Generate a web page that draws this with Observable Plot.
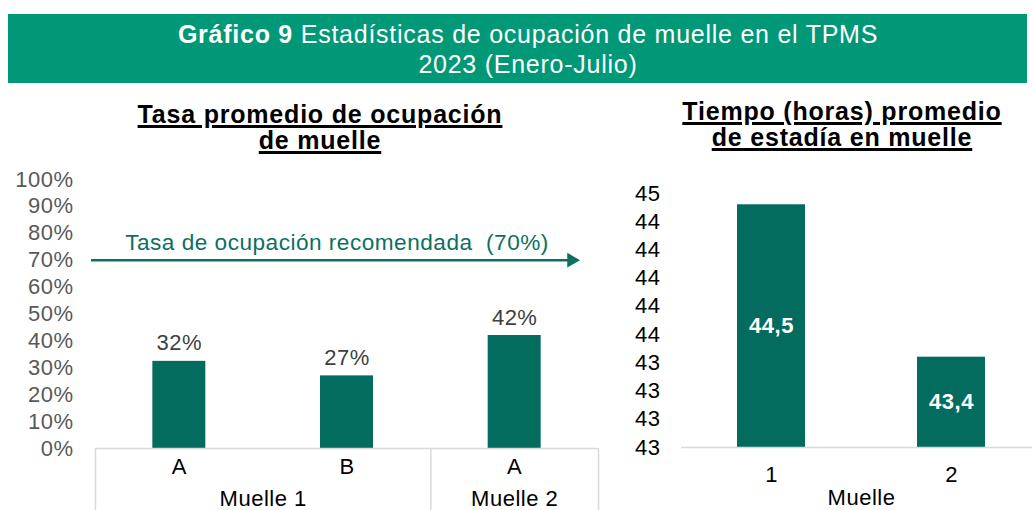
<!DOCTYPE html>
<html>
<head>
<meta charset="utf-8">
<script src="https://cdn.jsdelivr.net/npm/d3@7"></script>
<script src="https://cdn.jsdelivr.net/npm/@observablehq/plot@0.6"></script>
<style>
  html, body { margin: 0; padding: 0; background: #fff; overflow: hidden; width: 1032px; height: 510px; }
  #root { position: relative; width: 1032px; height: 510px; font-family: "Liberation Sans", Arial, sans-serif; overflow: hidden; }
  .abs { position: absolute; white-space: pre; }
  .hdrtxt { color: #fff; font-size: 25px; line-height: 30px; letter-spacing: 0.75px; text-align: center; width: 1000px; }
  .ttl { font-size: 25px; font-weight: bold; line-height: 26px; letter-spacing: 0.8px; text-align: center; width: 500px; color: #000; text-decoration: underline; text-decoration-thickness: 2.5px; text-underline-offset: 2px; }
  svg { position: absolute; top: 0; overflow: visible; }
</style>
</head>
<body>
<div id="root"></div>
<script>
// ---------- data ----------
const headerBold = "Gráfico 9";
const headerRest = " Estadísticas de ocupación de muelle en el TPMS";
const headerLine2 = "2023 (Enero-Julio)";
const leftTitle = ["Tasa promedio de ocupación", "de muelle"];
const rightTitle = ["Tiempo (horas) promedio", "de estadía en muelle"];

const occCategories = ["A", "B", "A"];
const occGroups = ["Muelle 1", "Muelle 1", "Muelle 2"];
const occValues = [0.324, 0.27, 0.42];
const occTicks = [0, 0.1, 0.2, 0.3, 0.4, 0.5, 0.6, 0.7, 0.8, 0.9, 1.0];
const recommendedRate = 0.70;
const recommendedLabel = "Tasa de ocupación recomendada  (70%)";

const stayCategories = ["1", "2"];
const stayValues = [44.52, 43.44];
const stayTicks = [42.8, 43.0, 43.2, 43.4, 43.6, 43.8, 44.0, 44.2, 44.4, 44.6];
const stayAxisLabel = "Muelle";

// ---------- colours ----------
const headerGreen = "#009877";
const barColor = "#036c5f";
const arrowColor = "#0b7062";
const gridGray = "#d9d9d9";

const root = document.getElementById("root");

function addDiv(cls, style, html) {
  const d = document.createElement("div");
  d.className = cls;
  d.setAttribute("style", style);
  d.innerHTML = html;
  root.appendChild(d);
  return d;
}

// header banner
addDiv("abs", `left:8px;top:14px;width:1019px;height:69px;background:${headerGreen}`, "");
const h1 = addDiv("abs hdrtxt", "left:28px;top:19px", "");
const hb = document.createElement("b"); hb.textContent = headerBold; h1.appendChild(hb);
h1.appendChild(document.createTextNode(headerRest));
const h2 = addDiv("abs hdrtxt", "left:28px;top:49px", "");
h2.textContent = headerLine2;

// chart titles
const lt = addDiv("abs ttl", "left:70px;top:101px", "");
lt.textContent = leftTitle.join("\n");
const rt = addDiv("abs ttl", "left:592px;top:98px", "");
rt.textContent = rightTitle.join("\n");

// ---------- left chart: occupancy ----------
const occData = occCategories.map((c, i) => ({ i, cat: c, group: occGroups[i], value: occValues[i] }));
const groupNames = [...new Set(occGroups)];
const groupInfo = groupNames.map(g => {
  const idx = occData.filter(d => d.group === g).map(d => d.i);
  return { g, center: d3.mean(idx), lo: d3.min(idx) - 0.5, hi: d3.max(idx) + 0.5 };
});
const bounds = [...new Set(groupInfo.flatMap(d => [d.lo, d.hi]))];
const halfBar = 0.158;
const pct = d3.format(".0%");
const chartStyle = { fontFamily: '"Liberation Sans", Arial, sans-serif', fontSize: "22px", letterSpacing: "0.5px", background: "transparent" };

const leftChart = Plot.plot({
  width: 600, height: 510,
  marginLeft: 95, marginRight: 2, marginTop: 179, marginBottom: 62,
  x: { domain: [-0.5, occData.length - 0.5] },
  y: { domain: [0, 1] },
  style: chartStyle,
  marks: [
    Plot.axisY({ ticks: occTicks, tickFormat: pct, tickSize: 0, tickPadding: 22, fill: "#595959", label: null }),
    Plot.axisX({ ticks: occData.map(d => d.i), tickFormat: i => occCategories[i], tickSize: 0, tickPadding: 10, fill: "#000", label: null }),
    Plot.axisX({ ticks: groupInfo.map(d => d.center), tickFormat: c => groupInfo.find(d => d.center === c).g, tickSize: 0, tickPadding: 42, fill: "#000", label: null }),
    Plot.axisX({ ticks: bounds, tickFormat: () => "", tickSize: 62, stroke: gridGray, strokeWidth: 1.5, label: null }),
    Plot.rectY(occData, { x1: d => d.i - halfBar, x2: d => d.i + halfBar, y: "value", fill: barColor }),
    Plot.ruleY([0], { stroke: gridGray, strokeWidth: 1.5 }),
    Plot.text(occData, { x: "i", y: "value", text: d => pct(d.value), lineAnchor: "bottom", dy: -11, fill: "#404040" }),
    Plot.ruleY([recommendedRate], { stroke: arrowColor, strokeWidth: 2.5, insetLeft: -4, insetRight: 27 }),
    Plot.dot([recommendedRate], { x: () => occData.length - 0.5, y: d => d, symbol: "triangle", rotate: 90, r: 5.5, fill: arrowColor, stroke: "none", dx: -27 }),
    Plot.text([recommendedLabel], { y: () => recommendedRate, text: d => d, dy: -17, dx: -10, fill: arrowColor, fontSize: 22.6 })
  ]
});
leftChart.style.left = "0px";
root.appendChild(leftChart);

// ---------- right chart: stay time ----------
const stayData = stayCategories.map((c, i) => ({ cat: c, value: stayValues[i] }));
const yMin = stayTicks[0];
const commaFmt = d3.formatLocale({ decimal: ",", thousands: ".", grouping: [3], currency: ["", ""] }).format(".1f");

const rightChart = Plot.plot({
  width: 441, height: 510,
  marginLeft: 81, marginRight: 0, marginTop: 193, marginBottom: 63,
  x: { domain: stayCategories, paddingInner: 0.622, paddingOuter: 0.311 },
  y: { domain: [stayTicks[0], stayTicks[stayTicks.length - 1]] },
  style: chartStyle,
  marks: [
    Plot.axisY({ ticks: stayTicks, tickFormat: d3.format(".0f"), tickSize: 0, tickPadding: 21, fill: "#000", label: null }),
    Plot.axisX({ tickSize: 0, tickPadding: 19, fill: "#000", label: null }),
    Plot.barY(stayData, { x: "cat", y1: yMin, y2: "value", fill: barColor }),
    Plot.ruleY([yMin], { stroke: gridGray, strokeWidth: 1.5 }),
    Plot.text(stayData, { x: "cat", y: d => (yMin + d.value) / 2, text: d => commaFmt(d.value), fill: "#fff", fontWeight: "bold" }),
    Plot.text([stayAxisLabel], { frameAnchor: "bottom", lineAnchor: "bottom", dy: 57, text: d => d, fill: "#000" })
  ]
});
rightChart.style.left = "600px";
root.appendChild(rightChart);
</script>
</body>
</html>
